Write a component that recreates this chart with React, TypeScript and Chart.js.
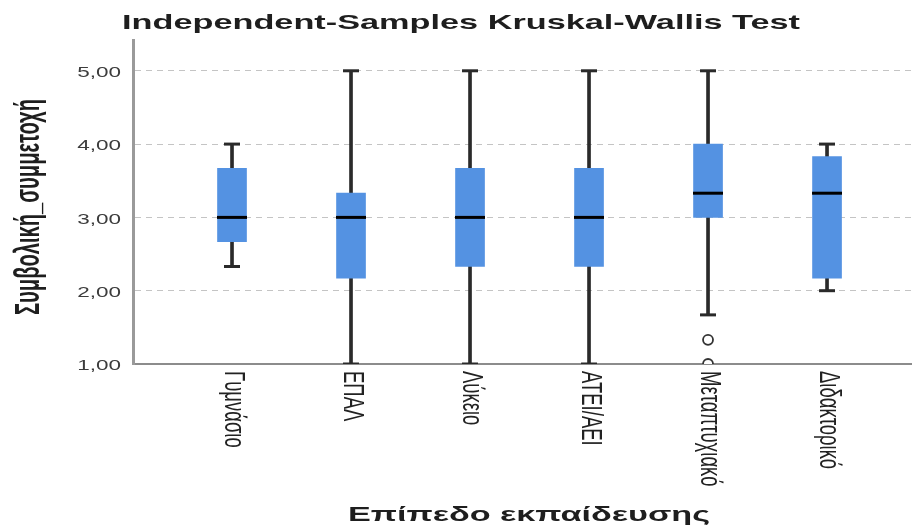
import React, { useEffect, useRef } from "react";
import { Chart, registerables } from "chart.js";

Chart.register(...registerables);

const chartTitle = "Independent-Samples Kruskal-Wallis Test";
const xTitle = "Επίπεδο εκπαίδευσης";
const yTitle = "Συμβολική_συμμετοχή";

const categories = ["Γυμνάσιο", "ΕΠΑΛ", "Λύκειο", "ΑΤΕΙ/ΑΕΙ", "Μεταπτυχιακό", "Διδακτορικό"];
const whiskerLow = [2.33, 1.0, 1.0, 1.0, 1.67, 2.0];
const q1 = [2.67, 2.17, 2.33, 2.33, 3.0, 2.17];
const median = [3.0, 3.0, 3.0, 3.0, 3.33, 3.33];
const q3 = [3.67, 3.33, 3.67, 3.67, 4.0, 3.83];
const whiskerHigh = [4.0, 5.0, 5.0, 5.0, 5.0, 4.0];
const outlierCategory = [4, 4];
const outlierValues = [1.33, 1.0];

const yTicks = [1, 2, 3, 4, 5];
const yTickLabels = ["1,00", "2,00", "3,00", "4,00", "5,00"];

function drawText(
  ctx: CanvasRenderingContext2D,
  text: string,
  x: number,
  y: number,
  o: { font: string; color: string; align: CanvasTextAlign; baseline: CanvasTextBaseline; angle?: number; sx?: number; sy?: number; targetLen?: number; perp?: number }
) {
  ctx.save();
  ctx.font = o.font;
  const w = ctx.measureText(text).width;
  const angle = o.angle || 0;
  let sx = o.sx ?? 1;
  let sy = o.sy ?? 1;
  if (o.targetLen) {
    if (angle === 0) sx = o.targetLen / w;
    else sy = o.targetLen / w;
  }
  if (angle !== 0 && o.perp) sx = o.perp;
  ctx.translate(x, y);
  ctx.scale(sx, sy);
  ctx.rotate(angle);
  ctx.textAlign = o.align;
  ctx.textBaseline = o.baseline;
  ctx.fillStyle = o.color;
  ctx.fillText(text, 0, 0);
  ctx.restore();
}

const textPlugin = {
  id: "textPlugin",
  afterDraw(chart: any) {
    const ctx: CanvasRenderingContext2D = chart.ctx;
    const xs = chart.scales.x;
    const ys = chart.scales.y;
    drawText(ctx, chartTitle, 461, 29, {
      font: 'bold 21px "Liberation Sans"', color: "#1e1e1e", align: "center", baseline: "alphabetic", targetLen: 678,
    });
    drawText(ctx, xTitle, 529, 521, {
      font: 'bold 20px "Liberation Sans"', color: "#1e1e1e", align: "center", baseline: "alphabetic", targetLen: 362,
    });
    drawText(ctx, yTitle, 39, 207, {
      font: 'bold 20px "Liberation Sans"', color: "#1e1e1e", align: "center", baseline: "alphabetic",
      angle: -Math.PI / 2, perp: 1.8, targetLen: 216,
    });
    yTicks.forEach((v, i) => {
      drawText(ctx, yTickLabels[i], 121, ys.getPixelForValue(v) + 2, {
        font: '15px "Liberation Sans"', color: "#3c3c3c", align: "right", baseline: "middle", sx: 1.5,
      });
    });
    categories.forEach((c, i) => {
      const px = xs.getPixelForValue(i);
      drawText(ctx, c, px - 7, 371, {
        font: '18.5px "Liberation Sans"', color: "#222", align: "left", baseline: "alphabetic",
        angle: Math.PI / 2, perp: 1.6,
      });
    });
  },
};

export default function App() {
  const ref = useRef<HTMLCanvasElement | null>(null);
  useEffect(() => {
    document.body.style.margin = "0";
    const canvas = ref.current;
    if (!canvas) return;
    const chart = new Chart(canvas, {
      type: "bar",
      data: {
        datasets: [
          {
            type: "bar",
            label: "whiskers",
            data: categories.map((_, i) => ({ x: i, y: [whiskerLow[i], whiskerHigh[i]] })) as any,
            backgroundColor: "#2a2a2a",
            borderWidth: 0,
            barThickness: 3,
            grouped: false,
            order: 4,
          } as any,
          {
            type: "bar",
            label: "boxes",
            data: categories.map((_, i) => ({ x: i, y: [q1[i], q3[i]] })) as any,
            backgroundColor: "rgb(84,146,226)",
            borderWidth: 0,
            barThickness: 29,
            grouped: false,
            order: 3,
          } as any,
          {
            type: "scatter",
            label: "median",
            data: categories.map((_, i) => ({ x: i, y: median[i] })),
            pointStyle: "line",
            pointRadius: 15,
            borderWidth: 3,
            borderColor: "#000",
            order: 2,
          } as any,
          {
            type: "scatter",
            label: "capLow",
            data: categories.map((_, i) => ({ x: i, y: whiskerLow[i] })),
            pointStyle: "line",
            pointRadius: 8,
            borderWidth: 3,
            borderColor: "#2a2a2a",
            order: 2,
          } as any,
          {
            type: "scatter",
            label: "capHigh",
            data: categories.map((_, i) => ({ x: i, y: whiskerHigh[i] })),
            pointStyle: "line",
            pointRadius: 8,
            borderWidth: 3,
            borderColor: "#2a2a2a",
            order: 2,
          } as any,
          {
            type: "scatter",
            label: "outliers",
            data: outlierValues.map((v, i) => ({ x: outlierCategory[i], y: v })),
            pointStyle: "circle",
            pointRadius: 5,
            borderWidth: 1.8,
            borderColor: "#333",
            backgroundColor: "#fff",
            clip: 0,
            order: 1,
          } as any,
        ],
      },
      options: {
        responsive: false,
        animation: false,
        events: [],
        layout: { autoPadding: false, padding: { top: 40, left: 0, right: 0, bottom: 0 } },
        plugins: {
          legend: { display: false },
          title: { display: false },
          tooltip: { enabled: false },
        },
        scales: {
          x: {
            type: "linear",
            min: -0.832,
            max: 5.714,
            offset: false,
            ticks: { display: false },
            grid: { display: false, offset: false, drawTicks: false },
            border: { display: true, color: "#8c8c8c", width: 2 },
            afterFit: (s: any) => { s.height = 161; },
          },
          y: {
            type: "linear",
            min: 1,
            max: 5.42,
            ticks: { display: false },
            afterBuildTicks: (s: any) => { s.ticks = yTicks.map((v) => ({ value: v })); },
            grid: { color: "#c4c4c4", lineWidth: 1, drawTicks: false },
            border: { display: true, color: "#9a9a9a", width: 3, dash: [6, 5] },
            afterFit: (s: any) => { s.width = 133; },
          },
        },
      } as any,
      plugins: [textPlugin],
    });
    return () => chart.destroy();
  }, []);
  return <canvas ref={ref} width={912} height={525} style={{ display: "block" }} />;
}
